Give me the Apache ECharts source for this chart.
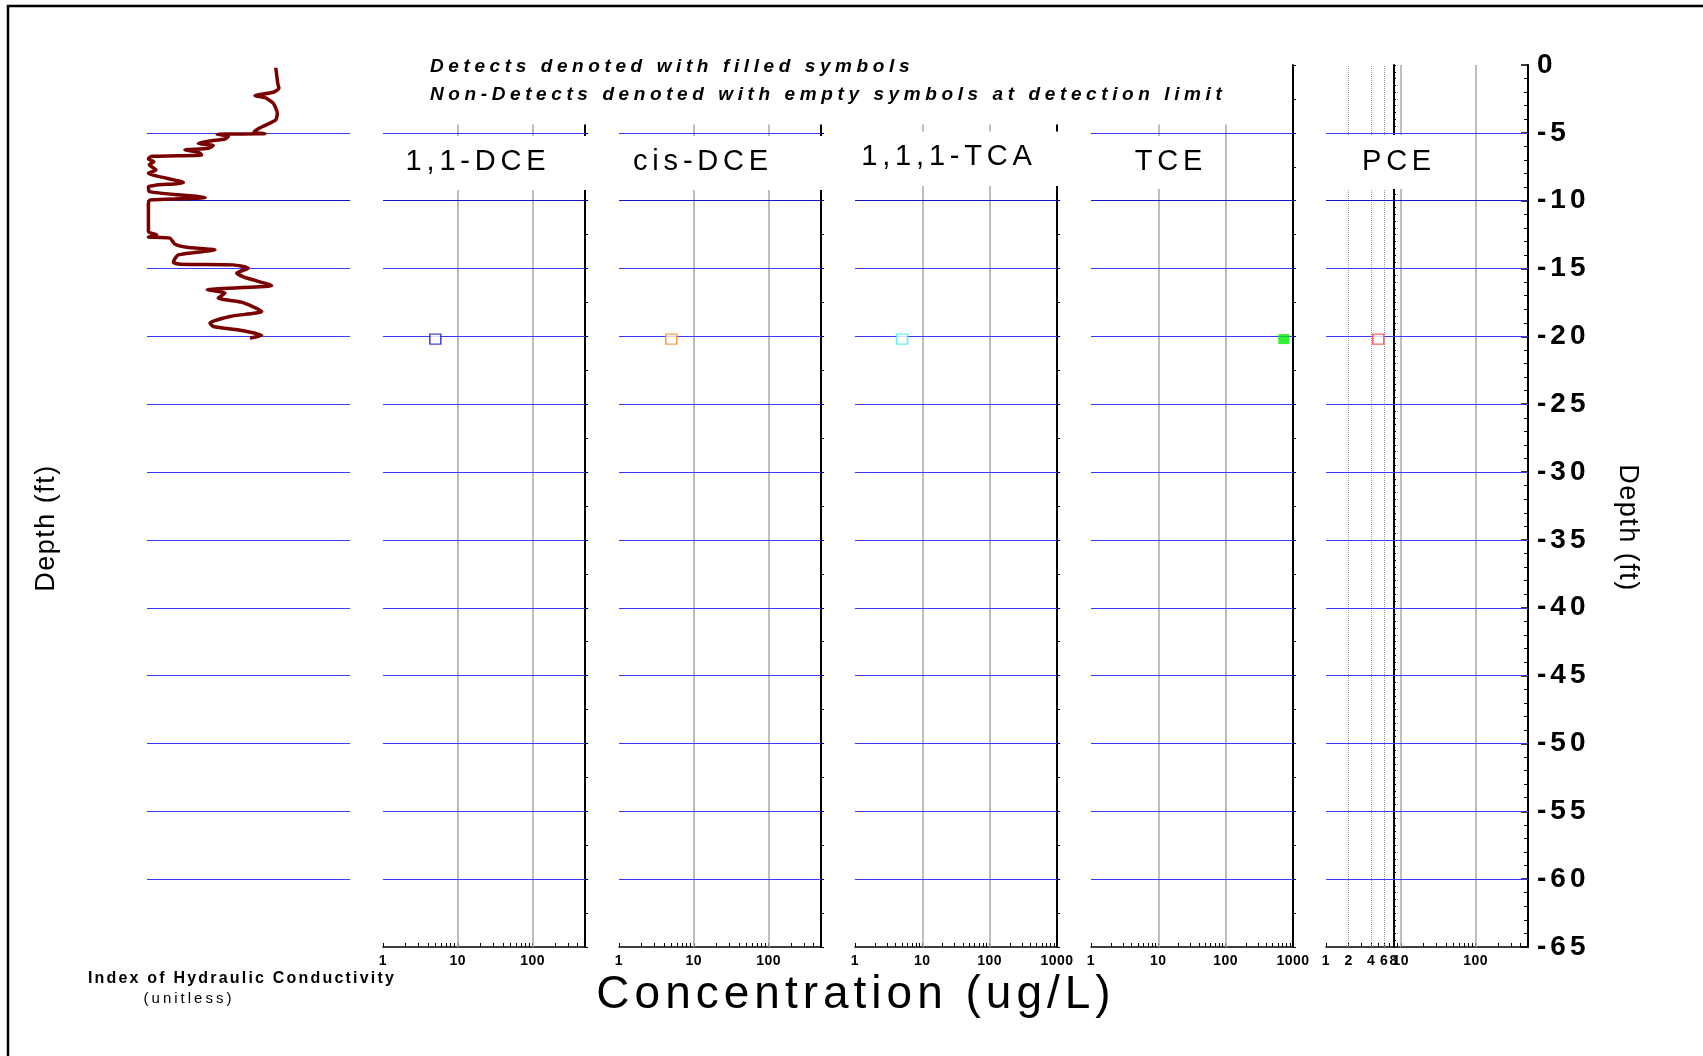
<!DOCTYPE html>
<html><head><meta charset="utf-8">
<script src="https://cdn.jsdelivr.net/npm/echarts@6/dist/echarts.min.js"></script>
<style>html,body{margin:0;padding:0;background:#fff}#c{width:1703px;height:1056px}</style>
</head><body><div id="c"></div>
<script>
// ---------------- DATA ----------------
const hcIndex = [63.4,63.9,64.4,65.0,62.2,53.2,58.1,62.2,64.2,63.4,59.8,56.5,53.7,52.7,58.1,34.6,40.1,38.4,31.0,25.3,32.7,30.2,18.7,25.3,26.9,2.3,0.7,3.4,1.1,4.4,0.7,17.9,0.7,1.1,28.6,1.5,0.7,0.7,4.8,0.7,11.3,13.8,19.5,33.5,15.4,13.0,16.3,42.5,49.9,44.2,48.3,61.4,29.7,38.4,35.1,46.6,56.5,40.9,31.0,32.7,47.4,56.5,50.7];
const hcDepth = [-0.20,-0.74,-1.35,-1.72,-2.01,-2.26,-2.41,-2.82,-3.56,-4.05,-4.34,-4.57,-4.81,-4.96,-5.06,-5.11,-5.25,-5.45,-5.60,-5.77,-5.94,-6.14,-6.26,-6.43,-6.63,-6.73,-6.92,-7.12,-7.36,-7.73,-7.98,-8.66,-8.96,-9.33,-9.77,-9.94,-10.19,-12.27,-12.52,-12.67,-12.76,-13.21,-13.43,-13.62,-13.99,-14.53,-14.68,-14.73,-14.97,-15.34,-15.66,-16.25,-16.57,-16.81,-17.18,-17.48,-18.16,-18.53,-19.02,-19.27,-19.59,-19.93,-20.13];

const analytes = ['1,1-DCE', 'cis-DCE', '1,1,1-TCA', 'TCE', 'PCE'];
const sampleDepth = [-20.2];
const dce11 = [5];
const cisDce = [5];
const tca111 = [5];
const tce = [730];
const pce = [5];
const detected = [false, false, false, true, false];
const concMax = [500, 500, 1000, 1000, 500];

const depthGridLines = [-5,-10,-15,-20,-25,-30,-35,-40,-45,-50,-55,-60];
const concGridLines = [10, 100];
const pceDottedLines = [2, 4, 6];
const labels500 = [1, 10, 100];
const labels1000 = [1, 10, 100, 1000];
const labelsPce = [1, 2, 4, 6, 8, 10, 100];
const ticks500 = [1,2,3,4,5,6,7,8,9,10,20,30,40,50,60,70,80,90,100,200,300,400,500];
const ticks1000 = [1,2,3,4,5,6,7,8,9,10,20,30,40,50,60,70,80,90,100,200,300,400,500,600,700,800,900,1000];

const noteLines = ['Detects denoted with filled symbols', 'Non-Detects denoted with empty symbols at detection limit'];

// ---------------- letter spacing (canvas) ----------------
const spacingBySize = {19:4.6, 29:4.8, 46:5, 28:4, 14:0.5, 16:2.2, 15:3, 27:1.5};
(function(){
  const proto = CanvasRenderingContext2D.prototype;
  const orig = proto.fillText;
  proto.fillText = function(t, x, y, w){
    const m = /(\d+(?:\.\d+)?)px/.exec(this.font || '');
    const s = m ? (spacingBySize[Math.round(parseFloat(m[1]))] || 0) : 0;
    if ('letterSpacing' in this) this.letterSpacing = s + 'px';
    return w === undefined ? orig.call(this, t, x, y) : orig.call(this, t, x, y, w);
  };
})();

// ---------------- CHART ----------------
const FONT = '"Liberation Sans", Arial, sans-serif';
const chart = echarts.init(document.getElementById('c'), null, {renderer: 'canvas'});

const TOP = 65, H = 882;
const panelLeft = [383, 619, 855, 1091, 1326];
const PW = 202;
const colors = ['#1a1ad0', '#ff8a2a', '#40e8ff', '#00ee00', '#ff3b3b'];
const concData = [dce11, cisDce, tca111, tce, pce];

const grids = [{left: 147, top: TOP, width: 203, height: H}]
  .concat(panelLeft.map(l => ({left: l, top: TOP, width: PW, height: H})));

function logX(gi, max, labels, ticks) {
  return {
    gridIndex: gi, type: 'log', logBase: 10, min: 1, max: max, position: 'bottom',
    axisLine: {show: true, onZero: false, lineStyle: {color: '#000', width: 1.5}},
    axisTick: {show: true, inside: true, length: 4, customValues: ticks, lineStyle: {color: '#000', width: 1}},
    minorTick: {show: false},
    axisLabel: {show: true, customValues: labels, margin: 7, color: '#000', fontFamily: FONT, fontWeight: 'bold', fontSize: 14, hideOverlap: false,
      formatter: v => String(Math.round(v))},
    splitLine: {show: false}
  };
}
const xAxes = [{gridIndex: 0, type: 'value', min: 0, max: 100, show: false}];
for (let i = 0; i < 5; i++) {
  const mx = concMax[i];
  const labels = i === 4 ? labelsPce : (mx === 1000 ? labels1000 : labels500);
  xAxes.push(logX(i + 1, mx, labels, mx === 1000 ? ticks1000 : ticks500));
}

function panelY(gi) {
  return {
    gridIndex: gi, type: 'value', min: -65, max: 0, interval: 2.5, position: 'right',
    axisLine: {show: true, onZero: false, lineStyle: {color: '#000', width: 2}},
    axisTick: {show: true, inside: false, length: 3, lineStyle: {color: '#000', width: 1}},
    axisLabel: {show: false}, splitLine: {show: false}
  };
}
const yAxes = [
  {gridIndex: 0, type: 'value', min: -65, max: 0, show: false},
  panelY(1), panelY(2), panelY(3), panelY(4),
  {
    gridIndex: 5, type: 'value', min: -65, max: 0, interval: 5, position: 'right',
    axisLine: {show: true, onZero: false, lineStyle: {color: '#000', width: 2}},
    axisTick: {show: true, inside: true, length: 7, lineStyle: {color: '#000', width: 1.5}},
    minorTick: {show: true, splitNumber: 5, length: 4, lineStyle: {color: '#000', width: 1}},
    axisLabel: {show: true, margin: 9, color: '#000', fontFamily: FONT, fontWeight: 'bold', fontSize: 28},
    splitLine: {show: false}
  },
  {
    gridIndex: 5, type: 'value', min: -65, max: 0, interval: 0.5, position: 'left', offset: -68,
    axisLine: {show: true, onZero: false, lineStyle: {color: '#000', width: 2}},
    axisTick: {show: true, inside: true, length: 2, lineStyle: {color: '#000', width: 1}},
    axisLabel: {show: false}, splitLine: {show: false}
  }
];

const hLines = depthGridLines.map(d => ({yAxis: d, lineStyle: {color: d === -10 ? '#1515c8' : '#3a3aff', width: 1, type: 'solid'}}));
const vLines = concGridLines.map(c => ({xAxis: c, lineStyle: {color: '#a8a8a8', width: 1.5, type: 'solid'}}));
const dotLines = pceDottedLines.map(c => ({xAxis: c, lineStyle: {color: '#9a9a9a', width: 1, type: 'dotted'}}));

function mk(data) {
  return {silent: true, symbol: 'none', label: {show: false}, animation: false, emphasis: {disabled: true}, data: data};
}

const series = [{
  type: 'line', xAxisIndex: 0, yAxisIndex: 0, z: 10,
  data: hcIndex.map((v, i) => [v, hcDepth[i]]),
  showSymbol: false, symbol: 'none', smooth: 0.2,
  lineStyle: {color: '#7a0000', width: 3.5},
  markLine: mk(hLines)
}];
for (let i = 0; i < 5; i++) {
  const filled = detected[i];
  series.push({
    type: 'scatter', xAxisIndex: i + 1, yAxisIndex: i + 1, z: 10,
    name: analytes[i],
    data: concData[i].map((v, k) => [v, sampleDepth[k]]),
    symbol: 'rect', symbolSize: [11, 10],
    itemStyle: filled ? {color: colors[i]} : {color: '#fff', borderColor: colors[i], borderWidth: 1.5},
    markLine: mk((i === 4 ? dotLines : []).concat(vLines, hLines))
  });
}

function txt(text, x, y, font, align, rot) {
  return {
    type: 'text', x: x, y: y, rotation: rot || 0, z: 101,
    style: {text: text, x: 0, y: 0, font: font, fill: '#000',
      align: align || 'center', textAlign: align || 'center',
      verticalAlign: 'middle', textVerticalAlign: 'middle'}
  };
}
function cover(x, y, w, h) {
  return {type: 'rect', z: 100, shape: {x: x, y: y, width: w, height: h}, style: {fill: '#fff'}, silent: true};
}

const titleX = [478, 703, 949, 1171, 1399];
const titleY = [162, 162, 157, 162, 162];
const graphics = [
  {type: 'polyline', z: 101, shape: {points: [[8, 1060], [8, 6], [1710, 6]]}, style: {stroke: '#000', lineWidth: 2.5, fill: null}},
  cover(372, 58, 692, 66.5),
  cover(1086, 58, 203, 66.5),
  cover(390, 136, 200, 54),
  cover(625, 136, 201, 54),
  cover(852, 131.5, 210, 54.5),
  cover(1100, 136, 115, 53),
  cover(1330, 135, 115, 54),
  txt(noteLines[0], 430, 67, 'italic bold 19px ' + FONT, 'left'),
  txt(noteLines[1], 430, 95, 'italic bold 19px ' + FONT, 'left'),
  txt('Concentration (ug/L)', 856, 995, '46px ' + FONT, 'center'),
  txt('Index of Hydraulic Conductivity', 242, 979, 'bold 16px ' + FONT, 'center'),
  txt('(unitless)', 189, 999, '15px ' + FONT, 'center'),
  txt('Depth (ft)', 47, 528, '27px ' + FONT, 'center', Math.PI / 2),
  txt('Depth (ft)', 1627, 528, '27px ' + FONT, 'center', -Math.PI / 2)
];
analytes.forEach((a, i) => graphics.push(txt(a, titleX[i], titleY[i], '29px ' + FONT, 'center')));

chart.setOption({
  backgroundColor: '#fff',
  animation: false,
  grid: grids,
  xAxis: xAxes,
  yAxis: yAxes,
  series: series,
  graphic: {elements: graphics}
});
</script></body></html>
